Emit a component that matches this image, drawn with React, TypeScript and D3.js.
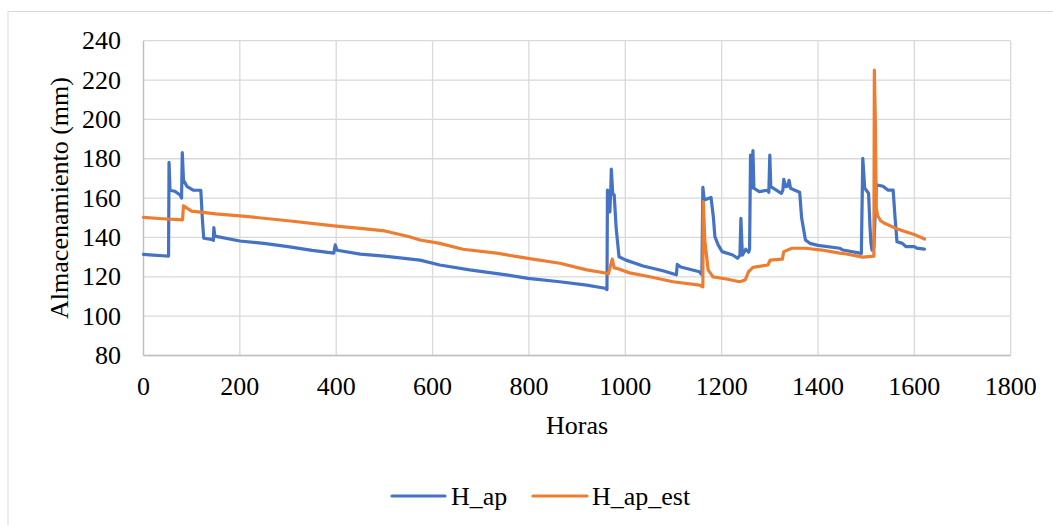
import React from "react";
import * as d3 from "d3";

const xTicks = [0, 200, 400, 600, 800, 1000, 1200, 1400, 1600, 1800];
const yTicks = [80, 100, 120, 140, 160, 180, 200, 220, 240];

const hApHours = [0, 20, 40, 52, 53, 55, 65, 76, 79, 80.5, 83, 90, 103, 119, 122, 125, 141, 145, 146, 148, 200, 250, 300, 350, 395, 398, 402, 450, 500, 574, 615, 677, 753, 798, 864, 920, 958, 962,
  963, 966, 968, 970, 971, 974, 977, 981, 987, 1000, 1037, 1078, 1106, 1108, 1115, 1154, 1159, 1161, 1164, 1175, 1178, 1183, 1186, 1193, 1201, 1223, 1233, 1238, 1240, 1243, 1250, 1256, 1258,
  1260, 1262, 1265, 1267, 1278, 1295, 1298, 1300, 1302, 1324, 1327, 1329, 1333, 1337, 1340, 1343, 1352, 1362, 1366, 1374, 1383, 1400, 1445, 1452, 1490,
  1493, 1497, 1500, 1505, 1508, 1510, 1512, 1516, 1521, 1535, 1545, 1556, 1560, 1564, 1575, 1583, 1600, 1605, 1621];
const hApValues = [131.4, 131, 130.7, 130.5, 178.2, 164, 163.5, 161.6, 160, 183.1, 169.2, 166, 164.1, 164, 150, 139.6, 139, 138.5, 145, 140.7, 138.2, 137, 135.3, 133.4, 132, 136.2, 133.5, 131.5, 130.5, 128.5, 126, 123.5, 121, 119.2, 117.5, 115.8, 114.2, 113.5,
  164.1, 160, 153, 165, 174.8, 162, 161.6, 145, 130.2, 128.6, 125.5, 123.1, 121, 126.3, 125, 122.6, 121, 165.5, 159, 160, 160.4, 150, 140.4, 136.1, 132.8, 131.1, 129.4, 131, 149.7, 131, 134, 132.5, 134,
  181.9, 165, 184.1, 165, 163.3, 164, 163, 181.9, 165.8, 162.4, 164, 169.5, 165.8, 166, 169, 165, 164, 163, 150, 138.7, 137, 136, 134.5, 133.6, 131.9,
  180.2, 165, 164.1, 162.4, 145, 137, 133.6, 135, 166.7, 166, 164.1, 164.1, 150, 137.8, 137, 135.3, 135.3, 134.6, 134.1];

const hEstHours = [0, 40, 81, 83, 100, 150, 200, 300, 400, 450, 501, 550, 574, 615, 663, 733, 798, 864, 920, 962, 965, 973, 977, 982, 1009, 1051, 1099, 1154, 1161, 1162, 1165, 1172, 1182, 1210, 1237, 1249, 1256, 1265, 1296, 1301, 1326, 1329, 1346, 1374, 1408, 1445, 1459, 1493, 1516, 1517, 1519, 1521, 1524, 1530, 1538, 1562, 1582, 1603, 1621];
const hEstValues = [150.2, 149.5, 148.9, 156, 153.4, 152, 151, 148.5, 145.8, 144.6, 143.3, 140.5, 138.7, 137, 134, 132, 129.4, 126.9, 123.5, 121.8, 121.5, 129, 124.5, 124.3, 122, 120, 117.5, 115.8, 114.9, 158.2, 138.7, 123.5, 120, 118.9, 117.5, 118.4, 122.6, 124.8, 126, 128.5, 129, 132.8, 134.5, 134.5, 133.6, 132, 131.6, 130, 130.5, 225.1, 200, 155, 151, 148.5, 147.2, 144.6, 142.9, 141.2, 139.2];

const seriesNames = ["H_ap", "H_ap_est"];
const seriesColors = ["#4472C4", "#ED7D31"];

const FONT = "Liberation Serif";

export default function App() {
  const W = 1053, H = 525;
  const x = d3.scaleLinear().domain([0, 1800]).range([143.5, 1010.7]);
  const y = d3.scaleLinear().domain([80, 240]).range([355.5, 40.7]);
  const line = d3.line<[number, number]>().x(d => x(d[0])).y(d => y(d[1]));
  const apPts: [number, number][] = hApHours.map((h, i) => [h, hApValues[i]]);
  const estPts: [number, number][] = hEstHours.map((h, i) => [h, hEstValues[i]]);
  const fs = 26;
  const ts = { fontFamily: FONT };
  return (
    <svg width={W} height={H} style={{ position: "absolute", left: 0, top: 0, background: "#fff", fontFamily: FONT }}>
      <rect x={0} y={0} width={W} height={H} fill="#fff" />
      <rect x={8} y={11.5} width={W + 20} height={H + 20} fill="none" stroke="#d9d9d9" strokeWidth={1} />
      {yTicks.map(t => (
        <line key={"gy" + t} x1={x(0)} x2={x(1800)} y1={y(t)} y2={y(t)} stroke="#d9d9d9" strokeWidth={1.3} />
      ))}
      {xTicks.map(t => (
        <line key={"gx" + t} x1={x(t)} x2={x(t)} y1={y(80)} y2={y(240)} stroke="#d9d9d9" strokeWidth={1.3} />
      ))}
      <line x1={x(0)} x2={x(0)} y1={y(80)} y2={y(240)} stroke="#bfbfbf" strokeWidth={1.3} />
      <line x1={x(0)} x2={x(1800)} y1={y(80)} y2={y(80)} stroke="#bfbfbf" strokeWidth={1.3} />
      {yTicks.map(t => (
        <text key={"ty" + t} x={121} y={y(t)} dy="0.33em" textAnchor="end" style={ts} fontSize={fs} fill="#000">{t}</text>
      ))}
      {xTicks.map(t => (
        <text key={"tx" + t} x={x(t)} y={395} textAnchor="middle" style={ts} fontSize={fs} fill="#000">{t}</text>
      ))}
      <text x={577} y={434} textAnchor="middle" style={ts} fontSize={fs} fill="#000">Horas</text>
      <text transform="translate(68,198) rotate(-90)" textAnchor="middle" style={ts} fontSize={fs} fill="#000">Almacenamiento (mm)</text>
      <path d={line(apPts) || ""} fill="none" stroke={seriesColors[0]} strokeWidth={3.2} strokeLinejoin="round" strokeLinecap="round" />
      <path d={line(estPts) || ""} fill="none" stroke={seriesColors[1]} strokeWidth={3.2} strokeLinejoin="round" strokeLinecap="round" />
      <line x1={392} x2={445} y1={496} y2={496} stroke={seriesColors[0]} strokeWidth={3.2} strokeLinecap="round" />
      <text x={451} y={505} style={ts} fontSize={fs} fill="#000">{seriesNames[0]}</text>
      <line x1={533} x2={587} y1={496} y2={496} stroke={seriesColors[1]} strokeWidth={3.2} strokeLinecap="round" />
      <text x={592} y={505} style={ts} fontSize={fs} fill="#000">{seriesNames[1]}</text>
    </svg>
  );
}
